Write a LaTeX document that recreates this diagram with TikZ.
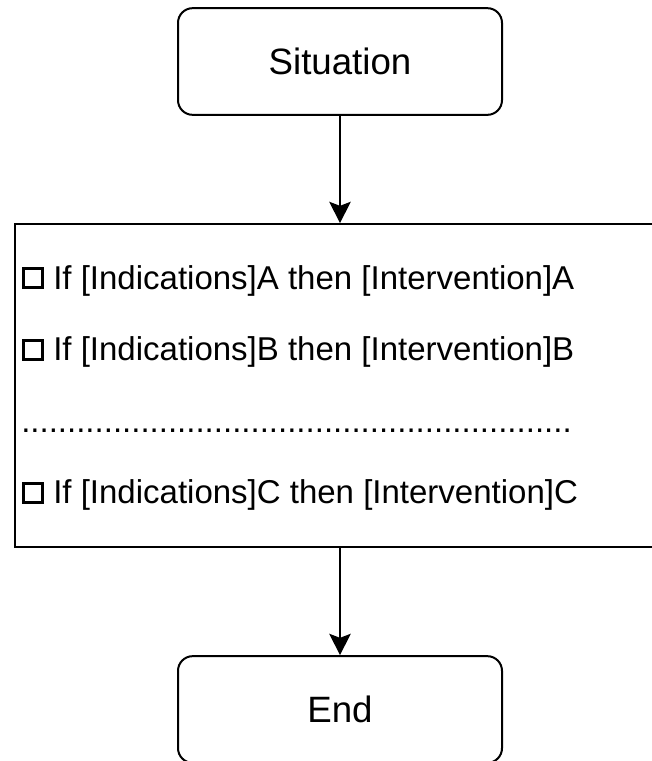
\documentclass[tikz,border=0pt]{standalone}
\usepackage{fontspec}
\setmainfont{Liberation Sans}
\usepackage{tikz}
\usetikzlibrary{shapes,arrows.meta,positioning}
\tikzstyle{rounded square} = [rectangle, rounded corners=11pt, text centered, draw=black, line width=1.5pt, minimum width=243pt, minimum height=80pt, font=\fontsize{27.5}{33}\selectfont]
\tikzstyle{rule box} = [rectangle, draw=black, line width=1.5pt, minimum width=514pt, minimum height=242pt]
\tikzstyle{rule line} = [anchor=base west, inner sep=0pt, font=\fontsize{24.75}{29}\selectfont]
\tikzstyle{arrow} = [line width=1.5pt,-{Stealth[length=16pt,width=16pt,inset=3pt]}]
\newcommand{\chkbox}{\raisebox{2pt}{\setlength{\fboxsep}{0pt}\setlength{\fboxrule}{2.2pt}\fbox{\rule{0pt}{12pt}\rule{12pt}{0pt}}}}

\begin{document}
\begin{tikzpicture}[x=0.75pt, y=-0.75pt]

        \useasboundingbox (0,0) rectangle (652,761);
        \clip (0,0) rectangle (652,761);

            \node (sit) [rounded square] at (340,61.5) {Situation};
            \node (rules) [rule box] at (357.5,385.5) { };
            \node (ruleA) [rule line] at (22,289) {\chkbox{} If [Indications]A then [Intervention]A};
            \node (ruleB) [rule line] at (22,360.5) {\chkbox{} If [Indications]B then [Intervention]B};
            \node (gap) [rule line] at (21,432.5) {............................................................};
            \node (ruleC) [rule line] at (22,503.5) {\chkbox{} If [Indications]C then [Intervention]C};
            \node (end) [rounded square] at (340,709.5) {End};

            \draw [arrow] (sit.south) -- (sit.south |- rules.north);
            \draw [arrow] (end.north |- rules.south) -- (end.north);

    \end{tikzpicture}
\end{document}
